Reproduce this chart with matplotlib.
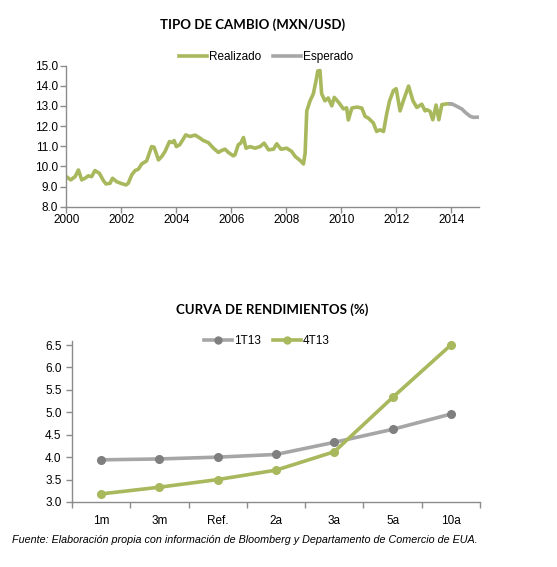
import matplotlib
matplotlib.use("Agg")
import matplotlib.pyplot as plt
from matplotlib.lines import Line2D

# ---------------- data ----------------
# Tipo de cambio (decimal year, MXN per USD)
real_years = [2000.00, 2000.16, 2000.32, 2000.44, 2000.56, 2000.68, 2000.80, 2000.92, 2001.04, 2001.20,
              2001.35, 2001.44, 2001.59, 2001.68, 2001.83, 2001.98, 2002.17, 2002.25, 2002.38, 2002.50,
              2002.62, 2002.74, 2002.92, 2003.10, 2003.19, 2003.35, 2003.47, 2003.59, 2003.75, 2003.86,
              2003.92, 2004.00, 2004.12, 2004.25, 2004.34, 2004.50, 2004.68, 2004.86, 2004.98, 2005.16,
              2005.35, 2005.53, 2005.65, 2005.77, 2005.89, 2006.07, 2006.13, 2006.25, 2006.34, 2006.44,
              2006.53, 2006.68, 2006.86, 2007.04, 2007.19, 2007.35, 2007.53, 2007.65, 2007.80, 2008.01,
              2008.19, 2008.32, 2008.50, 2008.62, 2008.68, 2008.74, 2008.86, 2008.98, 2009.08, 2009.14,
              2009.22, 2009.28, 2009.40, 2009.52, 2009.65, 2009.74, 2009.90, 2010.07, 2010.19, 2010.25,
              2010.38, 2010.56, 2010.74, 2010.86, 2010.98, 2011.16, 2011.28, 2011.40, 2011.53, 2011.65,
              2011.75, 2011.89, 2011.99, 2012.13, 2012.25, 2012.44, 2012.60, 2012.74, 2012.92, 2013.04,
              2013.10, 2013.22, 2013.32, 2013.44, 2013.54, 2013.65, 2013.84, 2013.96]
real_values = [9.49, 9.33, 9.49, 9.82, 9.33, 9.41, 9.53, 9.49, 9.79, 9.66,
               9.29, 9.13, 9.16, 9.41, 9.24, 9.16, 9.08, 9.16, 9.58, 9.79,
               9.86, 10.12, 10.27, 10.98, 10.95, 10.32, 10.49, 10.74, 11.23, 11.18,
               11.28, 10.98, 11.07, 11.35, 11.56, 11.48, 11.55, 11.40, 11.28, 11.18,
               10.90, 10.69, 10.79, 10.85, 10.69, 10.52, 10.57, 11.07, 11.15, 11.43,
               10.90, 10.98, 10.90, 10.98, 11.15, 10.82, 10.85, 11.12, 10.85, 10.90,
               10.74, 10.49, 10.29, 10.12, 10.65, 12.75, 13.25, 13.60, 14.27, 14.73,
               14.75, 13.60, 13.25, 13.39, 13.00, 13.42, 13.17, 12.85, 12.90, 12.30,
               12.89, 12.94, 12.89, 12.48, 12.39, 12.15, 11.73, 11.81, 11.73, 12.64,
               13.25, 13.76, 13.85, 12.75, 13.25, 13.98, 13.25, 12.92, 13.08, 12.75,
               12.81, 12.73, 12.31, 13.04, 12.31, 13.06, 13.10, 13.10]
exp_years = [2013.96, 2014.01, 2014.19, 2014.38, 2014.50, 2014.68, 2014.80, 2014.98]
exp_values = [13.10, 13.10, 12.98, 12.84, 12.68, 12.48, 12.43, 12.44]
year_ticks = [2000, 2002, 2004, 2006, 2008, 2010, 2012, 2014]
fx_yticks = [8.0, 9.0, 10.0, 11.0, 12.0, 13.0, 14.0, 15.0]

# Curva de rendimientos (%)
plazos = ["1m", "3m", "Ref.", "2a", "3a", "5a", "10a"]
curva_1t13 = [3.94, 3.96, 4.00, 4.06, 4.33, 4.62, 4.96]
curva_4t13 = [3.18, 3.33, 3.50, 3.71, 4.12, 5.33, 6.50]
yc_yticks = [3.0, 3.5, 4.0, 4.5, 5.0, 5.5, 6.0, 6.5]

# ---------------- style ----------------
plt.rcParams["font.family"] = ["Liberation Sans", "DejaVu Sans"]
GREEN = "#A8B85C"
LGRAY = "#A6A6A6"
DGRAY = "#7F7F7F"
AXIS = "#8C8C8C"
TXT = "#000000"
TITLEFONT = ["Lato", "DejaVu Sans"]
TSIZE = 8.5
LW = 2.6

W, H = 557, 567
fig = plt.figure(figsize=(W / 100, H / 100), dpi=100)
fig.patch.set_facecolor("white")


def ax_rect(left, top, right, bottom):
    return [left / W, 1 - bottom / H, (right - left) / W, (bottom - top) / H]


def style_axes(ax):
    for s in ("top", "right"):
        ax.spines[s].set_visible(False)
    for s in ("left", "bottom"):
        ax.spines[s].set_color(AXIS)
        ax.spines[s].set_linewidth(1.0)
    ax.tick_params(axis="both", colors=AXIS, labelcolor=TXT, labelsize=TSIZE, length=4, width=1.0,
                   direction="out")


# ---------------- top chart ----------------
ax1 = fig.add_axes(ax_rect(66.3, 65.5, 479, 206.7))
ax1.plot(real_years, real_values, color=GREEN, lw=LW, solid_joinstyle="round")
ax1.plot(exp_years, exp_values, color=LGRAY, lw=LW, solid_joinstyle="round")
ax1.set_xlim(2000, 2015)
ax1.set_ylim(8.0, 15.0)
ax1.set_xticks(year_ticks)
ax1.set_xticklabels([str(y) for y in year_ticks])
ax1.set_yticks(fx_yticks)
ax1.set_yticklabels([f"{v:.1f}" for v in fx_yticks])
style_axes(ax1)
ax1.tick_params(axis="x", pad=1.5)
ax1.tick_params(axis="y", pad=2)

fig.text(253 / W, 1 - 25 / H, "TIPO DE CAMBIO (MXN/USD)", ha="center", va="center",
         fontsize=9.5, fontweight="bold", family=TITLEFONT, color=TXT)

h1 = [Line2D([], [], color=GREEN, lw=LW), Line2D([], [], color=LGRAY, lw=LW)]
fig.legend(h1, ["Realizado", "Esperado"], loc="center", bbox_to_anchor=(266 / W, 1 - 57 / H),
           ncol=2, frameon=False, prop={"size": TSIZE}, handlelength=2.4,
           handletextpad=0.15, columnspacing=1.0, borderaxespad=0)

# ---------------- bottom chart ----------------
xs = list(range(len(plazos)))
ax2 = fig.add_axes(ax_rect(72, 345, 480, 502))
ax2.plot(xs, curva_1t13, color=LGRAY, lw=LW, marker="o", ms=5.5, mfc=DGRAY, mec=DGRAY,
         zorder=3)
ax2.plot(xs, curva_4t13, color=GREEN, lw=LW, marker="o", ms=5.5, mfc=GREEN, mec=GREEN,
         zorder=4)
ax2.set_xlim(-0.5, len(plazos) - 0.5)
ax2.set_ylim(3.0, 6.5)
ax2.set_yticks(yc_yticks)
ax2.set_yticklabels([f"{v:.1f}" for v in yc_yticks])
ax2.set_xticks([i - 0.5 for i in range(len(plazos) + 1)])
ax2.set_xticklabels([])
ax2.set_xticks(xs, minor=True)
ax2.set_xticklabels(plazos, minor=True)
style_axes(ax2)
ax2.tick_params(axis="x", which="minor", length=0, pad=9, labelsize=TSIZE)
ax2.spines["left"].set_bounds(3.0, 6.6)
for ln in ax2.get_lines():
    ln.set_clip_on(False)

fig.text(272 / W, 1 - 310 / H, "CURVA DE RENDIMIENTOS (%)", ha="center", va="center",
         fontsize=9.5, fontweight="bold", family=TITLEFONT, color=TXT)

h2 = [Line2D([], [], color=LGRAY, lw=LW, marker="o", ms=5, mfc=DGRAY, mec=DGRAY),
      Line2D([], [], color=GREEN, lw=LW, marker="o", ms=5, mfc=GREEN, mec=GREEN)]
fig.legend(h2, ["1T13", "4T13"], loc="center", bbox_to_anchor=(267 / W, 1 - 341 / H),
           ncol=2, frameon=False, prop={"size": TSIZE}, handlelength=2.4,
           handletextpad=0.15, columnspacing=1.0, borderaxespad=0)

fig.text(11.5 / W, 1 - 540 / H,
         "Fuente: Elaboración propia con información de Bloomberg y Departamento de Comercio de EUA.",
         ha="left", va="center", fontsize=7.75, style="italic", color=TXT)

fig.savefig("out.png", dpi=100, facecolor="white")
